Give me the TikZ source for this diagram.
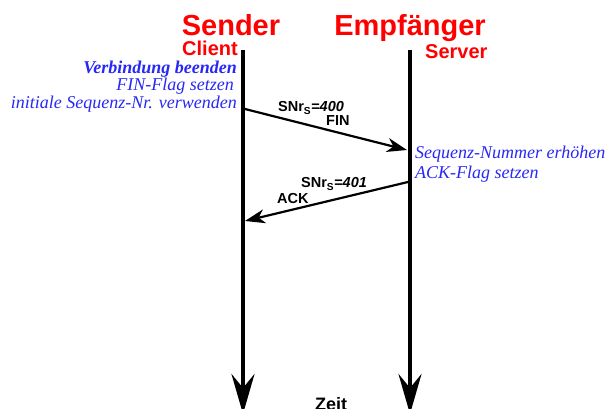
\documentclass[tikz,border=0pt]{standalone}
\usepackage{fontspec}
\setmainfont{Liberation Sans}
\newfontfamily\serifit{Liberation Serif}
\usetikzlibrary{arrows.meta}
\definecolor{sred}{RGB}{255,0,0}
\definecolor{sblue}{RGB}{40,40,245}
\begin{document}
\begin{tikzpicture}[x=1pt,y=-1pt,
  title/.style={text=sred,font=\fontsize{29}{30}\selectfont\bfseries,inner sep=0pt},
  role/.style={text=sred,font=\fontsize{20}{20}\selectfont\bfseries,inner sep=0pt},
  note/.style={text=sblue,font=\serifit\itshape\fontsize{18}{18}\selectfont,inner sep=0pt},
  msglabel/.style={font=\fontsize{14.5}{15}\selectfont\bfseries,inner sep=0pt},
  lifeline/.style={line width=4pt,-{Stealth[length=40pt,width=23pt,inset=14pt]}},
  msg/.style={line width=2.2pt,-{Stealth[length=20pt,width=14pt,inset=6pt]}}]
\useasboundingbox (0,0) rectangle (606,409);

% titles
\node[title,anchor=base] (sender) at (231,36) {Sender};
\node[title,anchor=base] (empf) at (410,36) {Empfänger};
\node[role,anchor=base east] (client) at (238,56) {Client};
\node[role,anchor=base west] (server) at (425,59) {Server};

% lifelines
\coordinate (stop) at (243,50);
\coordinate (sbot) at (243,414);
\coordinate (rtop) at (410,50);
\coordinate (rbot) at (410,414);
\draw[lifeline] (stop) -- (sbot);
\draw[lifeline] (rtop) -- (rbot);

% sender notes
\node[note,anchor=base east,font=\serifit\bfseries\itshape\fontsize{18}{18}\selectfont] (n1) at (237,74) {Verbindung beenden};
\node[note,anchor=base east] (n2) at (234,91) {FIN-Flag setzen};
\node[note,anchor=base east] (n3) at (237,109) {initiale Sequenz-Nr. verwenden};

% receiver notes
\node[note,anchor=base west] (r1) at (415,159) {Sequenz-Nummer erhöhen};
\node[note,anchor=base west] (r2) at (415,179) {ACK-Flag setzen};

% messages
\coordinate (m1s) at (245,109);
\coordinate (m1e) at (407,150);
\coordinate (m2s) at (408,182);
\coordinate (m2e) at (245,221);
\draw[msg] (m1s) -- (m1e);
\draw[msg] (m2s) -- (m2e);

\node[msglabel,anchor=base west] (l1) at (278,112) {SNr\textsubscript{S}=\textit{400}};
\node[msglabel,anchor=base west] (l2) at (326,126) {FIN};
\node[msglabel,anchor=base west] (l3) at (301,188) {SNr\textsubscript{S}=\textit{401}};
\node[msglabel,anchor=base west] (l4) at (277,204) {ACK};

% time
\node[anchor=base west,font=\fontsize{18}{18}\selectfont\bfseries,inner sep=0pt] (zeit) at (315,410) {Zeit};
\end{tikzpicture}
\end{document}
